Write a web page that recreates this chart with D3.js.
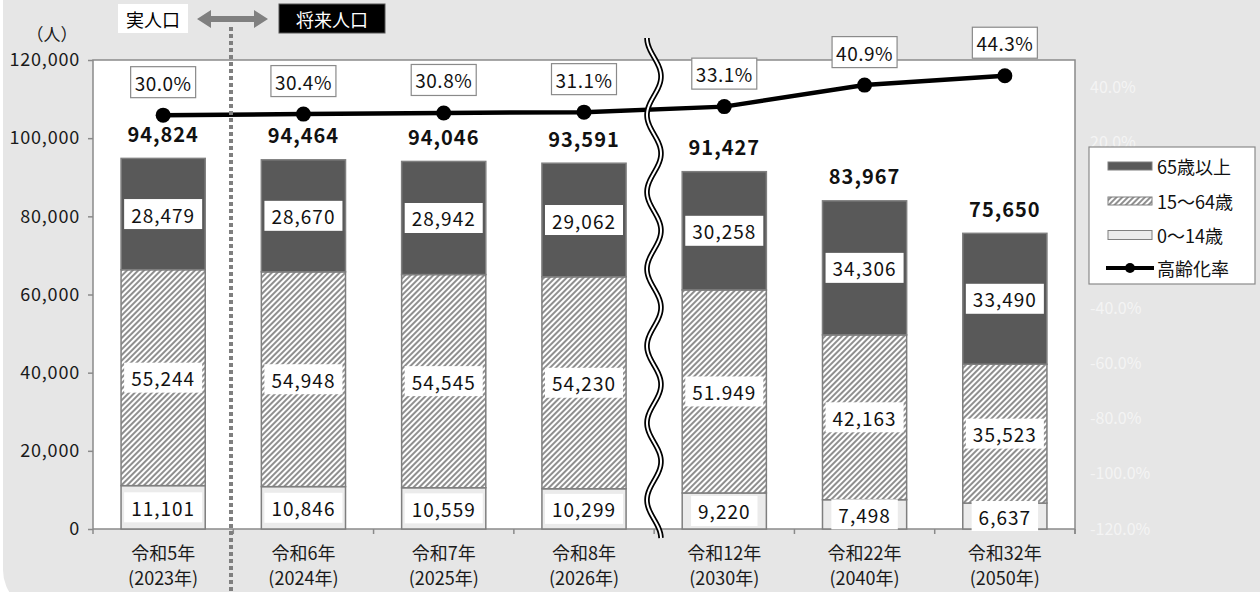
<!DOCTYPE html>
<html><head><meta charset="utf-8">
<script src="https://cdn.jsdelivr.net/npm/d3@7"></script>
<style>
body{margin:0;background:#fff}
svg{display:block}
text{font-family:"Noto Sans CJK JP","Noto Sans",sans-serif}
</style>
</head><body>
<svg id="c" width="1260" height="592"></svg>
<script>
// ---- data ----
const yearLabels = ["令和5年","令和6年","令和7年","令和8年","令和12年","令和22年","令和32年"];
const westernLabels = ["(2023年)","(2024年)","(2025年)","(2026年)","(2030年)","(2040年)","(2050年)"];
const age0to14 = [11101,10846,10559,10299,9220,7498,6637];
const age15to64 = [55244,54948,54545,54230,51949,42163,35523];
const age65plus = [28479,28670,28942,29062,30258,34306,33490];
const age15to64Text = ["55,244","54,948","54,545","54,230","51.949","42,163","35,523"];
const agingRate = [30.0,30.4,30.8,31.1,33.1,40.9,44.3];
const leftTicks = [0,20000,40000,60000,80000,100000,120000];
const rightTicks = [-120,-100,-80,-60,-40,-20,0,20,40];
const seriesNames = ["65歳以上","15～64歳","0～14歳","高齢化率"];

const svg = d3.select("#c");
const defs = svg.append("defs");
const pat = defs.append("pattern").attr("id","hatch").attr("patternUnits","userSpaceOnUse")
  .attr("width",4).attr("height",4).attr("patternTransform","rotate(45)");
pat.append("rect").attr("width",4).attr("height",4).attr("fill","#fff");
pat.append("line").attr("x1",1).attr("y1",0).attr("x2",1).attr("y2",4)
  .attr("stroke","#6a6a6a").attr("stroke-width",1.5);

// background
svg.append("rect").attr("x",3).attr("y",-60).attr("width",1320).attr("height",672)
  .attr("rx",42).attr("fill","#e6e6e6");

const L=93,R=1075,T=60,B=529;
const x = d3.scaleBand().domain(d3.range(yearLabels.length)).range([L,R]).paddingInner(0.4).paddingOuter(0.2);
const y = d3.scaleLinear().domain([0,120000]).range([B,T]);
const y2 = d3.scaleLinear().domain([-1.2,0.5]).range([B,T]);
const cx = i => x(i)+x.bandwidth()/2;
const fmt = d3.format(",");

svg.append("rect").attr("x",L).attr("y",T).attr("width",R-L).attr("height",B-T)
  .attr("fill","#fff").attr("stroke","#8a8a8a").attr("stroke-width",1.5);

// left axis
const ga = svg.append("g").attr("transform",`translate(${L},0)`)
  .call(d3.axisLeft(y).tickValues(leftTicks).tickSize(5).tickPadding(8).tickFormat(fmt));
ga.select(".domain").remove();
ga.selectAll("line").attr("stroke","#8a8a8a").attr("stroke-width",1.5);
ga.selectAll("text").attr("font-size",18).attr("fill","#1a1a1a").style("font-family",'"Noto Sans CJK JP"').attr("letter-spacing",0.8);

// right axis (faint)
const gr = svg.append("g").attr("transform",`translate(${R},0)`)
  .call(d3.axisRight(y2).tickValues(rightTicks.map(d=>d/100)).tickSize(0).tickPadding(15)
    .tickFormat(d=>d3.format(".1f")(d*100).replace("−","-")+"%"));
gr.select(".domain").remove();
gr.selectAll("text").attr("font-size",16).attr("fill","#f4f4f4").style("font-family",'"Noto Sans CJK JP"');
svg.append("line").attr("x1",R).attr("x2",R).attr("y1",B).attr("y2",B+5).attr("stroke","#8a8a8a").attr("stroke-width",1.5);

// bottom ticks
d3.range(yearLabels.length+1).forEach(k=>{
  const xx = L + x.step()*k;
  svg.append("line").attr("x1",xx).attr("x2",xx).attr("y1",B).attr("y2",B+5)
    .attr("stroke","#8a8a8a").attr("stroke-width",1.5);
});
// category labels
yearLabels.forEach((t,i)=>{
  svg.append("text").attr("x",cx(i)).attr("y",555).attr("text-anchor","middle")
    .attr("dominant-baseline","middle").attr("font-size",18).attr("fill","#1a1a1a").text(t);
  svg.append("text").attr("x",cx(i)).attr("y",580).attr("text-anchor","middle")
    .attr("dominant-baseline","middle").attr("font-size",18).attr("fill","#1a1a1a").text(westernLabels[i]);
});

// stacked bars
const rows = yearLabels.map((d,i)=>({i, a:age0to14[i], b:age15to64[i], c:age65plus[i]}));
const stack = d3.stack().keys(["a","b","c"])(rows);
const fills = {a:"#ebebeb", b:"url(#hatch)", c:"#595959"};
stack.forEach(layer=>{
  svg.append("g").selectAll("rect").data(layer).join("rect")
    .attr("x",d=>x(d.data.i)).attr("width",x.bandwidth())
    .attr("y",d=>y(d[1])).attr("height",d=>y(d[0])-y(d[1]))
    .attr("fill",fills[layer.key]).attr("stroke","#7f7f7f").attr("stroke-width",1.5);
});
// segment labels
stack.forEach(layer=>{
  layer.forEach(d=>{
    const i=d.data.i;
    const t = layer.key==="b" ? age15to64Text[i] : fmt(d.data[layer.key]);
    const g = svg.append("g").attr("transform",`translate(${cx(i)},${(y(d[0])+y(d[1]))/2})`);
    const r = g.append("rect").attr("fill","#fff");
    const tx = g.append("text").attr("text-anchor","middle").attr("dominant-baseline","central")
      .attr("font-size",19).attr("fill","#111").attr("letter-spacing",1).text(t);
    const w = tx.node().getComputedTextLength()+14;
    r.attr("x",-w/2).attr("y",-15).attr("width",w).attr("height",30);
  });
});
// totals
rows.forEach(r=>{
  const tot = r.a+r.b+r.c;
  svg.append("text").attr("x",cx(r.i)).attr("y",y(tot)-22).attr("text-anchor","middle")
    .attr("dominant-baseline","middle").attr("font-size",20).attr("font-weight","bold")
    .attr("fill","#111").attr("letter-spacing",1).text(fmt(tot));
});

// aging rate line
const line = d3.line().x((d,i)=>cx(i)).y(d=>y2(d/100));
svg.append("path").datum(agingRate).attr("d",line).attr("fill","none")
  .attr("stroke","#000").attr("stroke-width",4.5);
svg.append("g").selectAll("circle").data(agingRate).join("circle")
  .attr("cx",(d,i)=>cx(i)).attr("cy",d=>y2(d/100)).attr("r",7.5).attr("fill","#000");
agingRate.forEach((v,i)=>{
  const g = svg.append("g").attr("transform",`translate(${cx(i)},${y2(v/100)-33})`);
  g.append("rect").attr("x",-32.5).attr("y",-15.5).attr("width",65).attr("height",31)
    .attr("fill","#fff").attr("stroke","#8a8a8a").attr("stroke-width",1.2);
  g.append("text").attr("text-anchor","middle").attr("dominant-baseline","central")
    .attr("font-size",19).attr("fill","#111").attr("letter-spacing",0.5).text(d3.format(".1f")(v)+"%");
});

// wavy break line between 4th and 5th
const wave = d3.range(38,539,1).map(yy=>[654-7*Math.cos(2*Math.PI*(yy-38)/77), yy]);
const wl = d3.line().curve(d3.curveBasis);
svg.append("path").attr("d",wl(wave)).attr("fill","none").attr("stroke","#000").attr("stroke-width",5.5);
svg.append("path").attr("d",wl(wave)).attr("fill","none").attr("stroke","#fff").attr("stroke-width",2);

// dotted boundary line
svg.append("line").attr("x1",231).attr("x2",231).attr("y1",27).attr("y2",592)
  .attr("stroke","#7f7f7f").attr("stroke-width",4).attr("stroke-dasharray","4,3");

// top annotations
svg.append("rect").attr("x",118).attr("y",4).attr("width",70).attr("height",29).attr("fill","#fff");
svg.append("text").attr("x",153).attr("y",19).attr("text-anchor","middle").attr("dominant-baseline","central")
  .attr("font-size",18).attr("fill","#000").text("実人口");
svg.append("path").attr("d","M197,19 L211,10 L211,16 L254,16 L254,10 L268,19 L254,28 L254,22 L211,22 L211,28 Z")
  .attr("fill","#808080");
svg.append("rect").attr("x",279).attr("y",4).attr("width",106).attr("height",29).attr("fill","#000")
  .attr("stroke","#555").attr("stroke-width",1);
svg.append("text").attr("x",332).attr("y",19).attr("text-anchor","middle").attr("dominant-baseline","central")
  .attr("font-size",18).attr("fill","#fff").text("将来人口");
svg.append("text").attr("x",52).attr("y",33).attr("text-anchor","middle").attr("dominant-baseline","central")
  .attr("font-size",17).attr("fill","#1a1a1a").text("（人）");

// legend
const lg = svg.append("g");
lg.append("rect").attr("x",1089).attr("y",147).attr("width",166).attr("height",137)
  .attr("fill","#fff").attr("stroke","#8a8a8a").attr("stroke-width",1.2);
const rowsY = [166,201,235,268];
lg.append("rect").attr("x",1108).attr("y",rowsY[0]-4).attr("width",44).attr("height",8).attr("fill","#595959").attr("stroke","#7f7f7f");
lg.append("rect").attr("x",1108).attr("y",rowsY[1]-4).attr("width",44).attr("height",8).attr("fill","url(#hatch)").attr("stroke","#7f7f7f");
lg.append("rect").attr("x",1108).attr("y",rowsY[2]-4.5).attr("width",44).attr("height",9).attr("fill","#ebebeb").attr("stroke","#7f7f7f");
lg.append("line").attr("x1",1106).attr("x2",1154).attr("y1",rowsY[3]).attr("y2",rowsY[3]).attr("stroke","#000").attr("stroke-width",4);
lg.append("circle").attr("cx",1130).attr("cy",rowsY[3]).attr("r",5).attr("fill","#000");
seriesNames.forEach((n,k)=>{
  lg.append("text").attr("x",1157).attr("y",rowsY[k]).attr("dominant-baseline","central")
    .attr("font-size",18).attr("fill","#111").text(n);
});
</script>
</body></html>
